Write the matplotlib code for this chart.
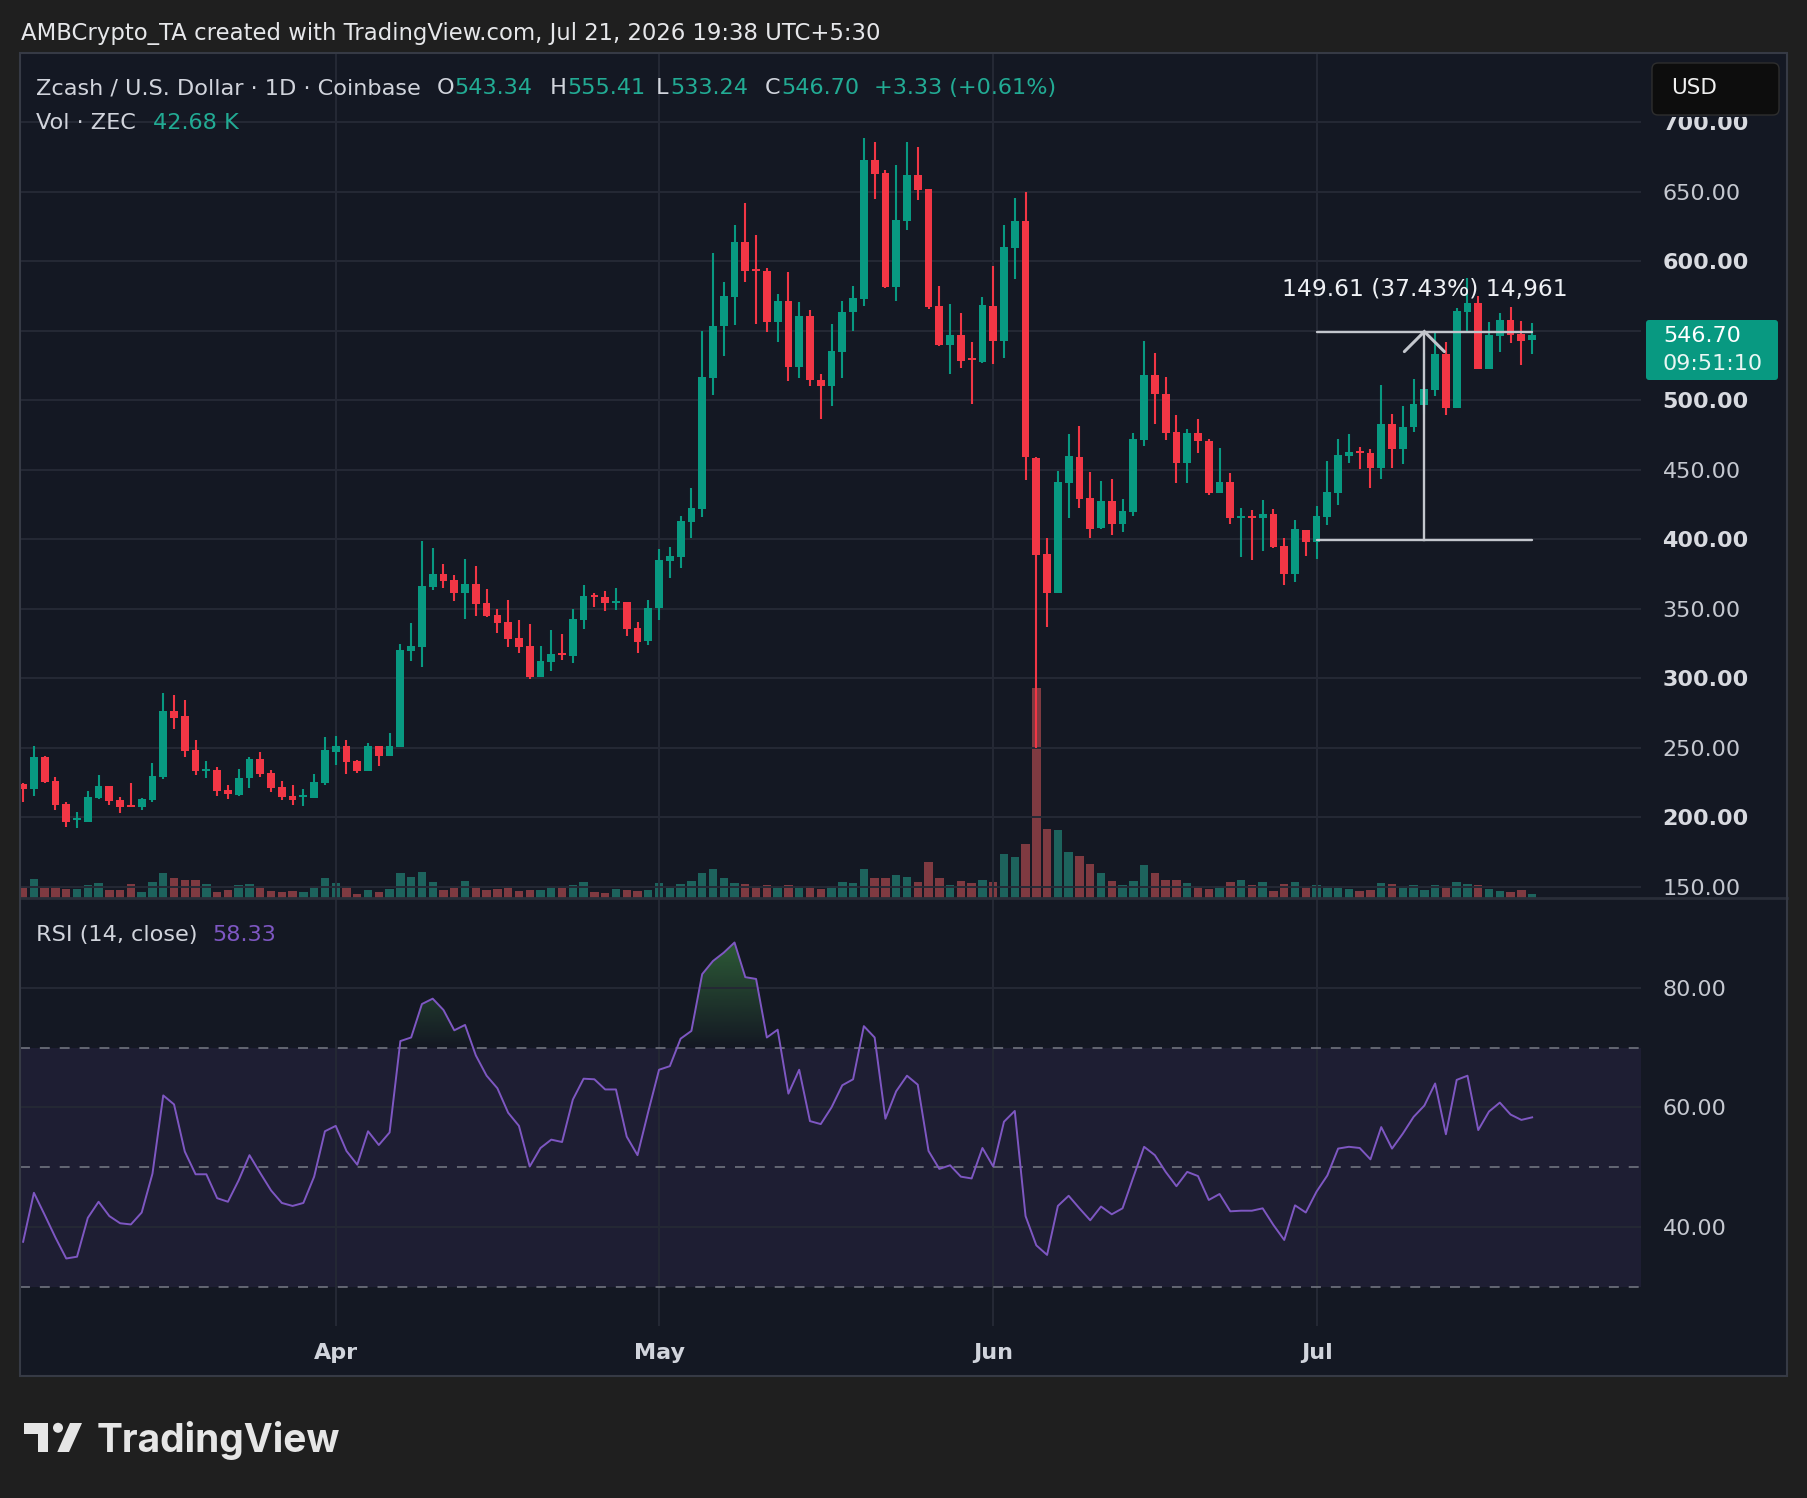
import numpy as np
import pandas as pd
import matplotlib
matplotlib.use('Agg')
import matplotlib.pyplot as plt
import matplotlib.dates as mdates
import matplotlib.colors as mcolors
import matplotlib.transforms as mtransforms
from matplotlib.patches import Rectangle, FancyBboxPatch, Polygon, Circle, PathPatch
from matplotlib.path import Path
from matplotlib.lines import Line2D

W, H = 1808, 1498

# ---------------- data (ZEC/USD daily, Coinbase) ----------------
dates = pd.date_range('2026-03-03', '2026-07-21', freq='D')

opens = [
    224.1, 220.7, 243.5, 226.2, 209.7, 198.4, 197.0, 214.0, 222.6, 212.6, 209.0, 207.8, 212.8, 229.3, 276.5,
    272.9, 248.5, 233.7, 234.1, 219.8, 216.4, 228.1, 242.0, 232.0, 221.9, 215.4, 214.5, 214.2, 224.6,
    247.4, 251.5, 240.7, 233.7, 251.5, 244.5, 250.7, 319.7, 322.6, 365.7, 375.1, 370.8, 361.4, 367.9, 354.2,
    345.6, 340.6, 329.1, 323.3, 301.0, 311.8, 318.3, 316.1, 342.0, 360.0, 358.6, 354.5, 355.0, 336.4, 327.2,
    350.3, 384.7, 387.5, 412.6, 422.1, 516.3, 553.6, 574.4, 613.6, 594.4, 592.8, 555.9, 571.3, 523.5, 560.5,
    514.3, 510.4, 534.8, 563.1, 572.7, 672.6, 663.3, 581.6, 629.1, 661.9, 651.8, 567.4, 539.6, 546.8, 530.0, 527.2,
    567.7, 542.7, 609.1, 628.8, 458.6, 389.4, 361.6, 440.2, 459.2, 429.6, 407.8, 427.4, 411.2, 419.9, 471.7,
    518.1, 504.4, 477.3, 455.1, 476.4, 470.7, 433.6, 441.1, 415.6, 416.8, 415.6, 418.2, 395.2, 375.3, 406.5,
    398.3, 416.3, 433.6, 460.2, 463.3, 462.1, 451.3, 482.9, 465.0, 480.8, 496.6, 507.4, 533.2, 494.7, 563.4,
    569.9, 522.7, 546.2, 557.7, 547.6, 543.34]
highs = [
    224.6, 251.4, 244.2, 229.1, 211.1, 203.9, 219.0, 230.5, 222.8, 214.7, 224.8, 214.0, 239.2, 289.5, 288.0,
    284.4, 255.7, 240.6, 236.3, 223.3, 234.9, 243.5, 247.1, 234.1, 226.2, 223.3, 220.5, 231.3, 257.9,
    258.6, 255.8, 241.4, 253.6, 251.7, 260.8, 324.8, 339.9, 398.8, 393.8, 382.3, 374.4, 385.9, 380.8, 364.3,
    349.9, 356.4, 342.0, 339.1, 323.3, 334.8, 331.9, 349.9, 367.2, 361.4, 362.9, 365.0, 355.2, 340.2, 356.4,
    393.1, 394.4, 416.7, 437.0, 549.7, 605.9, 584.9, 626.0, 641.9, 618.8, 595.1, 576.4, 592.1, 570.5, 564.9,
    518.9, 554.8, 571.3, 582.1, 688.5, 685.6, 665.5, 669.1, 685.6, 682.0, 651.9, 582.0, 569.2, 562.7, 541.8, 574.2,
    596.4, 626.0, 645.3, 649.7, 458.8, 400.9, 449.2, 475.7, 481.3, 448.3, 442.1, 443.3, 429.0, 476.4, 542.4,
    534.0, 516.6, 489.4, 479.2, 486.6, 472.0, 465.8, 447.7, 422.5, 421.0, 428.1, 421.6, 400.9, 413.9, 406.7,
    423.9, 456.3, 472.1, 475.7, 466.4, 465.0, 511.0, 490.1, 495.9, 515.3, 534.0, 549.0, 541.9, 566.0, 587.9,
    574.9, 556.2, 562.7, 567.0, 556.9, 555.41]
lows = [
    211.4, 215.7, 224.8, 205.6, 193.4, 192.7, 196.5, 213.3, 209.0, 203.5, 207.3, 205.6, 211.1, 227.9, 263.8,
    243.7, 230.5, 228.6, 215.7, 213.5, 215.7, 221.4, 229.1, 218.6, 212.8, 209.2, 208.5, 214.0, 223.4,
    237.8, 231.3, 232.3, 233.5, 237.1, 244.3, 250.5, 312.6, 308.2, 363.6, 365.0, 355.7, 342.7, 344.9, 344.2,
    332.7, 322.6, 318.3, 299.6, 300.8, 305.4, 313.3, 311.1, 335.6, 351.4, 348.5, 349.2, 330.5, 317.9, 324.3,
    342.3, 371.8, 379.0, 400.6, 415.7, 504.0, 532.0, 554.3, 585.1, 555.1, 548.7, 541.5, 514.0, 516.3, 510.4,
    486.8, 496.1, 515.6, 550.0, 567.9, 644.6, 580.9, 571.3, 622.3, 643.9, 565.8, 538.7, 519.1, 522.8, 496.9, 526.5,
    526.2, 530.6, 587.0, 442.4, 250.1, 336.7, 361.4, 415.0, 422.4, 400.6, 407.6, 403.4, 405.0, 416.8, 467.3,
    482.6, 471.1, 440.2, 440.2, 461.7, 432.1, 433.4, 411.2, 386.9, 385.2, 391.8, 393.7, 367.3, 369.6, 388.1,
    385.8, 410.4, 424.7, 455.1, 450.6, 436.9, 443.4, 451.3, 454.2, 477.2, 490.0, 503.0, 489.4, 494.5, 549.0,
    522.5, 522.5, 534.7, 541.4, 525.3, 533.24]
closes = [
    220.7, 243.5, 225.7, 209.2, 197.0, 199.2, 214.7, 222.6, 212.1, 207.8, 207.5, 213.3, 229.8, 276.5, 271.7,
    248.0, 233.7, 235.1, 219.3, 217.1, 228.4, 242.3, 231.5, 221.4, 215.0, 212.8, 215.4, 225.5, 248.6,
    251.5, 240.2, 233.7, 251.5, 244.5, 251.5, 320.4, 323.3, 366.5, 375.1, 370.1, 361.4, 367.9, 353.5, 344.9,
    339.9, 328.4, 322.6, 301.0, 312.6, 317.6, 317.1, 342.7, 359.3, 358.6, 354.2, 355.9, 335.6, 326.4, 350.8,
    385.2, 388.0, 413.2, 422.7, 516.6, 553.3, 574.9, 613.6, 592.8, 593.1, 555.9, 571.3, 524.1, 560.5, 514.8,
    510.4, 535.3, 563.3, 573.6, 672.6, 662.8, 581.6, 629.5, 661.9, 651.1, 567.0, 539.6, 546.8, 528.4, 528.7, 568.3,
    542.7, 610.1, 628.8, 458.9, 388.5, 361.6, 441.1, 459.8, 429.3, 407.1, 427.4, 411.2, 420.3, 472.0, 518.1,
    504.1, 476.7, 454.5, 476.4, 470.4, 433.6, 441.1, 415.0, 416.8, 415.6, 417.9, 394.3, 375.3, 407.4, 398.3,
    416.8, 434.0, 460.6, 462.8, 462.3, 451.3, 482.9, 465.0, 480.8, 497.3, 508.1, 533.2, 494.7, 564.1, 569.9,
    522.7, 546.9, 557.7, 547.1, 542.8, 546.70]
# volume in K ZEC
volumes = [
    120, 190, 100, 110, 90, 90, 130, 150, 80, 80, 140, 60, 160, 250, 200, 180, 180, 140, 60, 80, 130, 140, 120,
    70, 60, 70, 60, 110, 200,
    150, 110, 40, 80, 60, 90, 250, 210, 260, 160, 80, 100, 170, 120, 80, 90, 100, 70, 80, 80, 110, 100, 130,
    160, 60, 50, 90, 80, 70, 80,
    150, 100, 140, 170, 250, 290, 200, 150, 140, 120, 130, 100, 130, 100, 120, 90, 120, 160, 150, 290, 200,
    200, 230, 210, 160, 360, 200, 130, 170, 150, 180,
    160, 440, 410, 540, 2100, 690, 680, 460, 420, 340, 250, 170, 130, 170, 330, 250, 180, 180, 150, 110, 90,
    120, 160, 180, 130, 160, 70, 140, 160, 110,
    130, 120, 100, 90, 70, 80, 150, 140, 100, 130, 80, 130, 120, 160, 140, 130, 90, 70, 60, 80, 42.68]
rsi = [
    37.5, 45.7, 42.0, 38.2, 34.7, 35.0, 41.5, 44.2, 41.8, 40.6, 40.4, 42.4, 48.9, 62.0, 60.5, 52.6, 48.8, 48.8,
    44.8, 44.2, 47.8, 52.0, 49.0, 46.1, 44.0, 43.5, 44.0, 48.4, 56.0, 56.9, 52.7, 50.4, 56.0, 53.7, 55.8, 71.1,
    71.7, 77.3, 78.2, 76.3, 72.9, 73.8, 68.7, 65.3, 63.2, 59.1, 56.9, 50.1, 53.2, 54.6, 54.2, 61.3, 64.8, 64.7,
    63.0, 63.0, 55.1, 52.0, 59.3, 66.3, 66.9, 71.5, 72.8, 82.3, 84.5, 85.9, 87.6, 81.8, 81.5, 71.7, 73.0, 62.3,
    66.3, 57.7, 57.2, 60.0, 63.7, 64.7, 73.6, 71.7, 58.1, 62.7, 65.3, 63.8, 52.7, 49.7, 50.3, 48.4, 48.1, 53.2,
    50.1, 57.6, 59.4, 41.8, 36.9, 35.3, 43.5, 45.2, 43.1, 41.1, 43.4, 42.1, 43.1, 48.3, 53.4, 52.0, 49.2, 46.8,
    49.2, 48.5, 44.5, 45.5, 42.6, 42.7, 42.7, 43.1, 40.3, 37.8, 43.6, 42.4, 45.9, 48.6, 53.1, 53.4, 53.2, 51.3,
    56.7, 53.1, 55.6, 58.4, 60.3, 64.0, 55.5, 64.6, 65.3, 56.2, 59.3, 60.8, 58.8, 57.9, 58.33]
price_ticks = [150, 200, 250, 300, 350, 400, 450, 500, 550, 600, 650, 700]
rsi_ticks = [40, 60, 80]
measure_low, measure_high = 399.70, 549.31
measure_bars = '14,961'
measure_start, measure_end, measure_mid = '2026-07-01', '2026-07-21', '2026-07-11'

for arr in (opens, highs, lows, closes, volumes, rsi):
    assert len(arr) == len(dates), len(arr)

# ---------------- style ----------------
BG = '#141823'
OUTER = '#1f1f1f'
GRID = '#252935'
GREEN = '#089981'
RED = '#f23645'
VGREEN = '#1d635d'
VRED = '#7f3a41'
TXT = '#d1d4dc'
AX_TXT = '#c5c8d0'
VAL = '#22ab94'
PURPLE = '#7e57c2'
plt.rcParams['font.family'] = ['DejaVu Sans']


def fx(px):
    return px / W


def fy(py):
    return 1 - py / H


fig = plt.figure(figsize=(W / 100, H / 100), dpi=100)
fig.patch.set_facecolor(OUTER)

fig.add_artist(Rectangle((fx(20), fy(1376)), fx(1787) - fx(20), fy(53) - fy(1376),
                         transform=fig.transFigure, facecolor=BG, edgecolor='none', zorder=-1))

rect_p = [fx(20), fy(898), fx(1641) - fx(20), fy(53) - fy(898)]
rect_r = [fx(20), fy(1326), fx(1641) - fx(20), fy(898) - fy(1326)]
ax_v = fig.add_axes(rect_p, zorder=1)
ax_p = fig.add_axes(rect_p, zorder=2, sharex=ax_v)
ax_r = fig.add_axes(rect_r, zorder=2, sharex=ax_v)

x = mdates.date2num(dates)
o = np.array(opens)
h = np.array(highs)
l = np.array(lows)
c = np.array(closes)
up = c >= o
ccol = np.where(up, GREEN, RED)
vcol = np.where(up, VGREEN, VRED)

# volume
ax_v.set_facecolor(BG)
ax_v.bar(x, volumes, width=0.78, color=vcol, linewidth=0)
ax_v.set_ylim(0, 8450)
ax_v.set_yticks([])
ax_v.tick_params(axis='x', labelbottom=False, length=0)

# candles
ax_p.set_facecolor('none')
ax_p.vlines(x, l, h, colors=ccol, lw=1.5, zorder=3)
ax_p.bar(x, np.maximum(np.abs(c - o), 1.3), bottom=np.minimum(o, c), width=0.72,
         color=ccol, linewidth=0, zorder=4)
ax_p.set_ylim(142.1, 749.6)
ax_p.set_yticks(price_ticks)
ax_p.set_yticklabels(['%.2f' % t for t in price_ticks])
ax_p.yaxis.tick_right()
ax_p.tick_params(axis='y', length=0, pad=15.5, labelsize=16, labelcolor=AX_TXT)
for t, tick in zip(price_ticks, ax_p.yaxis.get_major_ticks()):
    if t % 100 == 0:
        tick.label2.set_fontweight('bold')
        tick.label2.set_color('#d8dae0')
ax_p.tick_params(axis='x', labelbottom=False, length=0)
ax_p.grid(True, color=GRID, lw=1.4, zorder=0)

# RSI
ax_r.set_facecolor(BG)
rsi_a = np.array(rsi)
ax_r.axhspan(30, 70, color=PURPLE, alpha=0.1, lw=0, zorder=0)
coll = ax_r.fill_between(x, 70, rsi_a, where=rsi_a > 70, interpolate=True,
                         facecolor='none', edgecolor='none')
grad = np.zeros((256, 1, 4))
grad[..., :3] = mcolors.to_rgb('#4caf50')
grad[:, 0, 3] = np.linspace(0.0, 0.5, 256)
im = ax_r.imshow(grad, extent=[x[0], x[-1], 70, 90], origin='lower', aspect='auto', zorder=1,
                 interpolation='bilinear')
clip_patch = PathPatch(Path.make_compound_path(*coll.get_paths()), transform=ax_r.transData,
                       facecolor='none', edgecolor='none')
ax_r.add_patch(clip_patch)
im.set_clip_path(clip_patch)
for lvl in (70, 50, 30):
    ax_r.axhline(lvl, color='#787b86', lw=1.1, dashes=(6.5, 6.5), zorder=2)
ax_r.plot(x, rsi_a, color=PURPLE, lw=1.4, zorder=3)
ax_r.set_ylim(23.4, 95.05)
ax_r.set_yticks(rsi_ticks)
ax_r.set_yticklabels(['%.2f' % t for t in rsi_ticks])
ax_r.yaxis.tick_right()
ax_r.tick_params(axis='y', length=0, pad=15.5, labelsize=16, labelcolor=AX_TXT)
ax_r.grid(True, color=GRID, lw=1.4, zorder=0)
ax_r.xaxis.set_major_locator(mdates.MonthLocator())
ax_r.xaxis.set_major_formatter(mdates.DateFormatter('%b'))
ax_r.tick_params(axis='x', length=0, pad=12.5, labelsize=16, labelcolor=TXT)
for lab in ax_r.get_xticklabels():
    lab.set_fontweight('bold')

ax_v.set_xlim(x[0] - 0.29, x[0] + 150.1)
for ax in (ax_v, ax_p, ax_r):
    for s in ax.spines.values():
        s.set_visible(False)

# measurement tool
mx0, mx1, mxm = (mdates.date2num(pd.Timestamp(d)) for d in (measure_start, measure_end, measure_mid))
MC = '#c3c6cd'
ax_p.plot([mx0, mx1], [measure_high, measure_high], color=MC, lw=1.7, zorder=5, solid_capstyle='round')
ax_p.plot([mx0, mx1], [measure_low, measure_low], color=MC, lw=1.7, zorder=5, solid_capstyle='round')
ax_p.plot([mxm, mxm], [measure_low, measure_high], color=MC, lw=1.7, zorder=5)
tip = ax_p.transData.transform((mxm, measure_high))
chev = ax_p.transData.inverted().transform([tip + (-20, -20), tip, tip + (20, -20)])
ax_p.plot(chev[:, 0], chev[:, 1], color=MC, lw=2.2, zorder=5, solid_capstyle='round',
          solid_joinstyle='miter')
diff = measure_high - measure_low
ax_p.annotate('%.2f (%.2f%%) %s' % (diff, diff / measure_low * 100, measure_bars),
              xy=(mxm, measure_high), xytext=(0, 36), textcoords='offset pixels',
              ha='center', va='baseline', color='#eef0f4', fontsize=16.8, zorder=6)

# header texts
fig.text(fx(21), fy(40), 'AMBCrypto_TA created with TradingView.com, Jul 21, 2026 19:38 UTC+5:30',
         color='#e6e7ea', fontsize=16.4, va='baseline')
LG = 16.1
fig.text(fx(36.5), fy(94), 'Zcash / U.S. Dollar · 1D · Coinbase', color=TXT, fontsize=LG, va='baseline')
for px, s, col in [(436.5, 'O', TXT), (454, '%.2f' % opens[-1], VAL),
                   (549.5, 'H', TXT), (567, '%.2f' % highs[-1], VAL),
                   (656, 'L', TXT), (670, '%.2f' % lows[-1], VAL),
                   (765, 'C', TXT), (781, '%.2f' % closes[-1], VAL),
                   (873.7, '+3.33 (+0.61%)', VAL)]:
    fig.text(fx(px), fy(94), s, color=col, fontsize=LG, va='baseline')
fig.text(fx(36.5), fy(129), 'Vol · ZEC', color=TXT, fontsize=LG, va='baseline')
fig.text(fx(153), fy(129), '%.2f K' % volumes[-1], color=VAL, fontsize=LG, va='baseline')
fig.text(fx(36.5), fy(941), 'RSI (14, close)', color=TXT, fontsize=LG, va='baseline')
fig.text(fx(212), fy(941), '%.2f' % rsi[-1], color=PURPLE, fontsize=LG, va='baseline')

# right axis boxes
IT = mtransforms.IdentityTransform()
fig.add_artist(Rectangle((1645, H - 117), 140, 60, transform=IT, facecolor=BG, edgecolor='none', zorder=5))
fig.add_artist(FancyBboxPatch((1652, H - 115), 127, 52, boxstyle='round,pad=0,rounding_size=6',
                              transform=IT, facecolor='#0d0d0d', edgecolor='#2e2e2e', lw=1, zorder=5))
fig.text(fx(1671), fy(88), 'USD', color='#f0f0f0', fontsize=15.5, va='center', zorder=6)
fig.add_artist(FancyBboxPatch((1646, H - 380), 132, 60, boxstyle='round,pad=0,rounding_size=3',
                              transform=IT, facecolor=GREEN, edgecolor='none', zorder=5))
fig.text(fx(1663), fy(336), '%.2f' % closes[-1], color='white', fontsize=16, va='center', zorder=6)
fig.text(fx(1663), fy(364), '09:51:10', color='#e8f6f3', fontsize=16, va='center', zorder=6)

# pane separator + panel border
fig.add_artist(Line2D([fx(20), fx(1787)], [fy(898), fy(898)], transform=fig.transFigure,
                      color='#2a2e39', lw=2, zorder=4))
fig.add_artist(Rectangle((fx(20), fy(1376)), fx(1787) - fx(20), fy(53) - fy(1376),
                         transform=fig.transFigure, facecolor='none', edgecolor='#363a45', lw=1.5, zorder=4))

# TradingView logo
LOGO = '#e6e6e6'
fig.add_artist(Polygon([(24, H - 1423), (48.3, H - 1423), (48.3, H - 1452), (38, H - 1452),
                        (38, H - 1434), (24, H - 1434)], closed=True, transform=IT,
                       facecolor=LOGO, edgecolor='none', zorder=5))
fig.add_artist(Circle((58, H - 1427.8), 5, transform=IT, facecolor=LOGO, edgecolor='none', zorder=5))
fig.add_artist(Polygon([(70, H - 1423), (82, H - 1423), (69, H - 1452), (57.3, H - 1452)], closed=True,
                       transform=IT, facecolor=LOGO, edgecolor='none', zorder=5))
fig.text(fx(97), fy(1452), 'TradingView', color=LOGO, fontsize=28, family='Inter', weight='bold',
         va='baseline')

fig.savefig('out.png', dpi=100, facecolor=OUTER)
